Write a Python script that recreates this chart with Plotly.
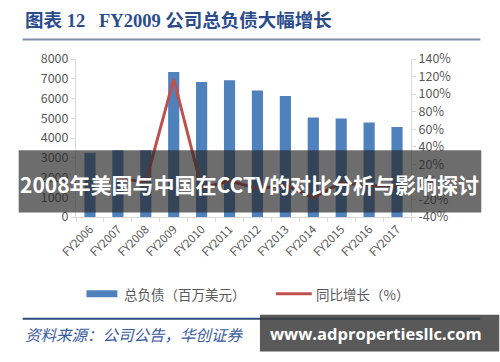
import plotly.graph_objects as go

years = ["FY2006", "FY2007", "FY2008", "FY2009", "FY2010", "FY2011",
         "FY2012", "FY2013", "FY2014", "FY2015", "FY2016", "FY2017"]
total_debt = [3250, 3380, 3380, 7340, 6830, 6920, 6400, 6130, 5040, 4990, 4780, 4560]
growth_years = ["FY2007", "FY2008", "FY2009", "FY2010", "FY2011", "FY2012",
                "FY2013", "FY2014", "FY2015", "FY2016", "FY2017"]
growth_pct = [4, 0, 117, -7, 1, -7.5, -4, -18, -1, -4, -4.5]
left_ticks = [0, 1000, 2000, 3000, 4000, 5000, 6000, 7000, 8000]
right_ticks = [-40, -20, 0, 20, 40, 60, 80, 100, 120, 140]

W, H = 500, 362
L, R, T, B = 75.5, 88.5, 58.5, 145
PW, PH = W - L - R, H - T - B


def px(x):
    return (x - L) / PW


def py(y):
    return (H - B - y) / PH


BAR = "#4F81BD"
LINE = "#C0504D"
TXT = "#595959"
FONT = "Noto Sans CJK SC"

fig = go.Figure()
fig.add_trace(go.Bar(x=years, y=total_debt, marker=dict(color=BAR, line=dict(width=0)),
                     name="总负债（百万美元）", showlegend=False))
fig.add_trace(go.Scatter(x=growth_years, y=growth_pct, yaxis="y2", mode="lines",
                         line=dict(color=LINE, width=3), name="同比增长（%）", showlegend=False))

fig.update_layout(
    width=W, height=H,
    margin=dict(l=L, r=R, t=T, b=B, pad=0),
    paper_bgcolor="white", plot_bgcolor="white",
    bargap=0.6,
    font=dict(family=FONT, color=TXT, size=12),
    xaxis=dict(type="category", tickangle=-45, showgrid=False, showline=True,
               linecolor="#D9D9D9", linewidth=1, ticks="outside", ticklen=4,
               tickcolor="#D9D9D9", tickson="boundaries",
               tickfont=dict(size=11.5, color=TXT, family=FONT)),
    yaxis=dict(range=[0, 8000], tickvals=left_ticks, showgrid=False, showline=True,
               linecolor="#D9D9D9", linewidth=1, ticks="outside", ticklen=4,
               tickcolor="#D9D9D9", zeroline=False,
               tickfont=dict(size=12.5, color=TXT, family=FONT)),
    yaxis2=dict(range=[-40, 140], tickvals=right_ticks,
                ticktext=[f"{v}%" for v in right_ticks], overlaying="y", side="right",
                showgrid=False, showline=True, linecolor="#D9D9D9", linewidth=1,
                ticks="outside", ticklen=4, tickcolor="#D9D9D9", zeroline=False,
                tickfont=dict(size=12.5, color=TXT, family=FONT)),
)

shapes = []
annotations = []

# title and rules
annotations.append(dict(xref="paper", yref="paper", x=px(22), y=py(20), xanchor="left",
                        yanchor="middle", showarrow=False,
                        text="<b>图表 12&nbsp;&nbsp;&nbsp;FY2009 公司总负债大幅增长</b>",
                        font=dict(size=18.5, color="#2B4C8C",
                                  family="Liberation Serif, Noto Sans CJK SC")))
shapes.append(dict(type="line", xref="paper", yref="paper", x0=px(22), x1=px(481),
                   y0=py(39), y1=py(39), line=dict(color="#7F8FA8", width=2)))
shapes.append(dict(type="line", xref="paper", yref="paper", x0=px(22), x1=px(481),
                   y0=py(319), y1=py(319), line=dict(color="#2B4C7C", width=2)))

# legend
shapes.append(dict(type="rect", xref="paper", yref="paper", x0=px(86), x1=px(117),
                   y0=py(297.5), y1=py(290.5), fillcolor=BAR, line=dict(width=0)))
annotations.append(dict(xref="paper", yref="paper", x=px(122), y=py(294), xanchor="left",
                        yanchor="middle", showarrow=False, text="总负债（百万美元）",
                        font=dict(size=13.5, color=TXT, family=FONT)))
shapes.append(dict(type="line", xref="paper", yref="paper", x0=px(276), x1=px(312),
                   y0=py(294), y1=py(294), line=dict(color=LINE, width=3)))
annotations.append(dict(xref="paper", yref="paper", x=px(314), y=py(294), xanchor="left",
                        yanchor="middle", showarrow=False, text="同比增长（%）",
                        font=dict(size=13.5, color=TXT, family=FONT)))

# source
annotations.append(dict(xref="paper", yref="paper", x=px(22), y=py(334), xanchor="left",
                        yanchor="middle", showarrow=False,
                        text="<i>资料来源：公司公告，华创证券</i>",
                        font=dict(size=15.5, color="#3A5BA0", family=FONT)))

# overlay banner
shapes.append(dict(type="rect", xref="paper", yref="paper", x0=px(18), x1=px(482),
                   y0=py(212.5), y1=py(150), fillcolor="rgba(40,40,40,0.68)",
                   line=dict(width=0), layer="above"))
annotations.append(dict(xref="paper", yref="paper", x=px(250), y=py(184), xanchor="center",
                        yanchor="middle", showarrow=False,
                        text="<b>2008年美国与中国在CCTV的对比分析与影响探讨</b>",
                        font=dict(size=21, color="white", family=FONT)))

# watermark
shapes.append(dict(type="rect", xref="paper", yref="paper", x0=px(260), x1=px(500),
                   y0=py(352), y1=py(315), fillcolor="rgba(60,60,60,0.85)",
                   line=dict(width=0), layer="above"))
annotations.append(dict(xref="paper", yref="paper", x=px(376), y=py(333.5), xanchor="center",
                        yanchor="middle", showarrow=False,
                        text="<b>www.adpropertiesllc.com</b>",
                        font=dict(size=16.5, color="white", family="Open Sans")))

fig.update_layout(shapes=shapes, annotations=annotations)
fig.write_html("out.html")
